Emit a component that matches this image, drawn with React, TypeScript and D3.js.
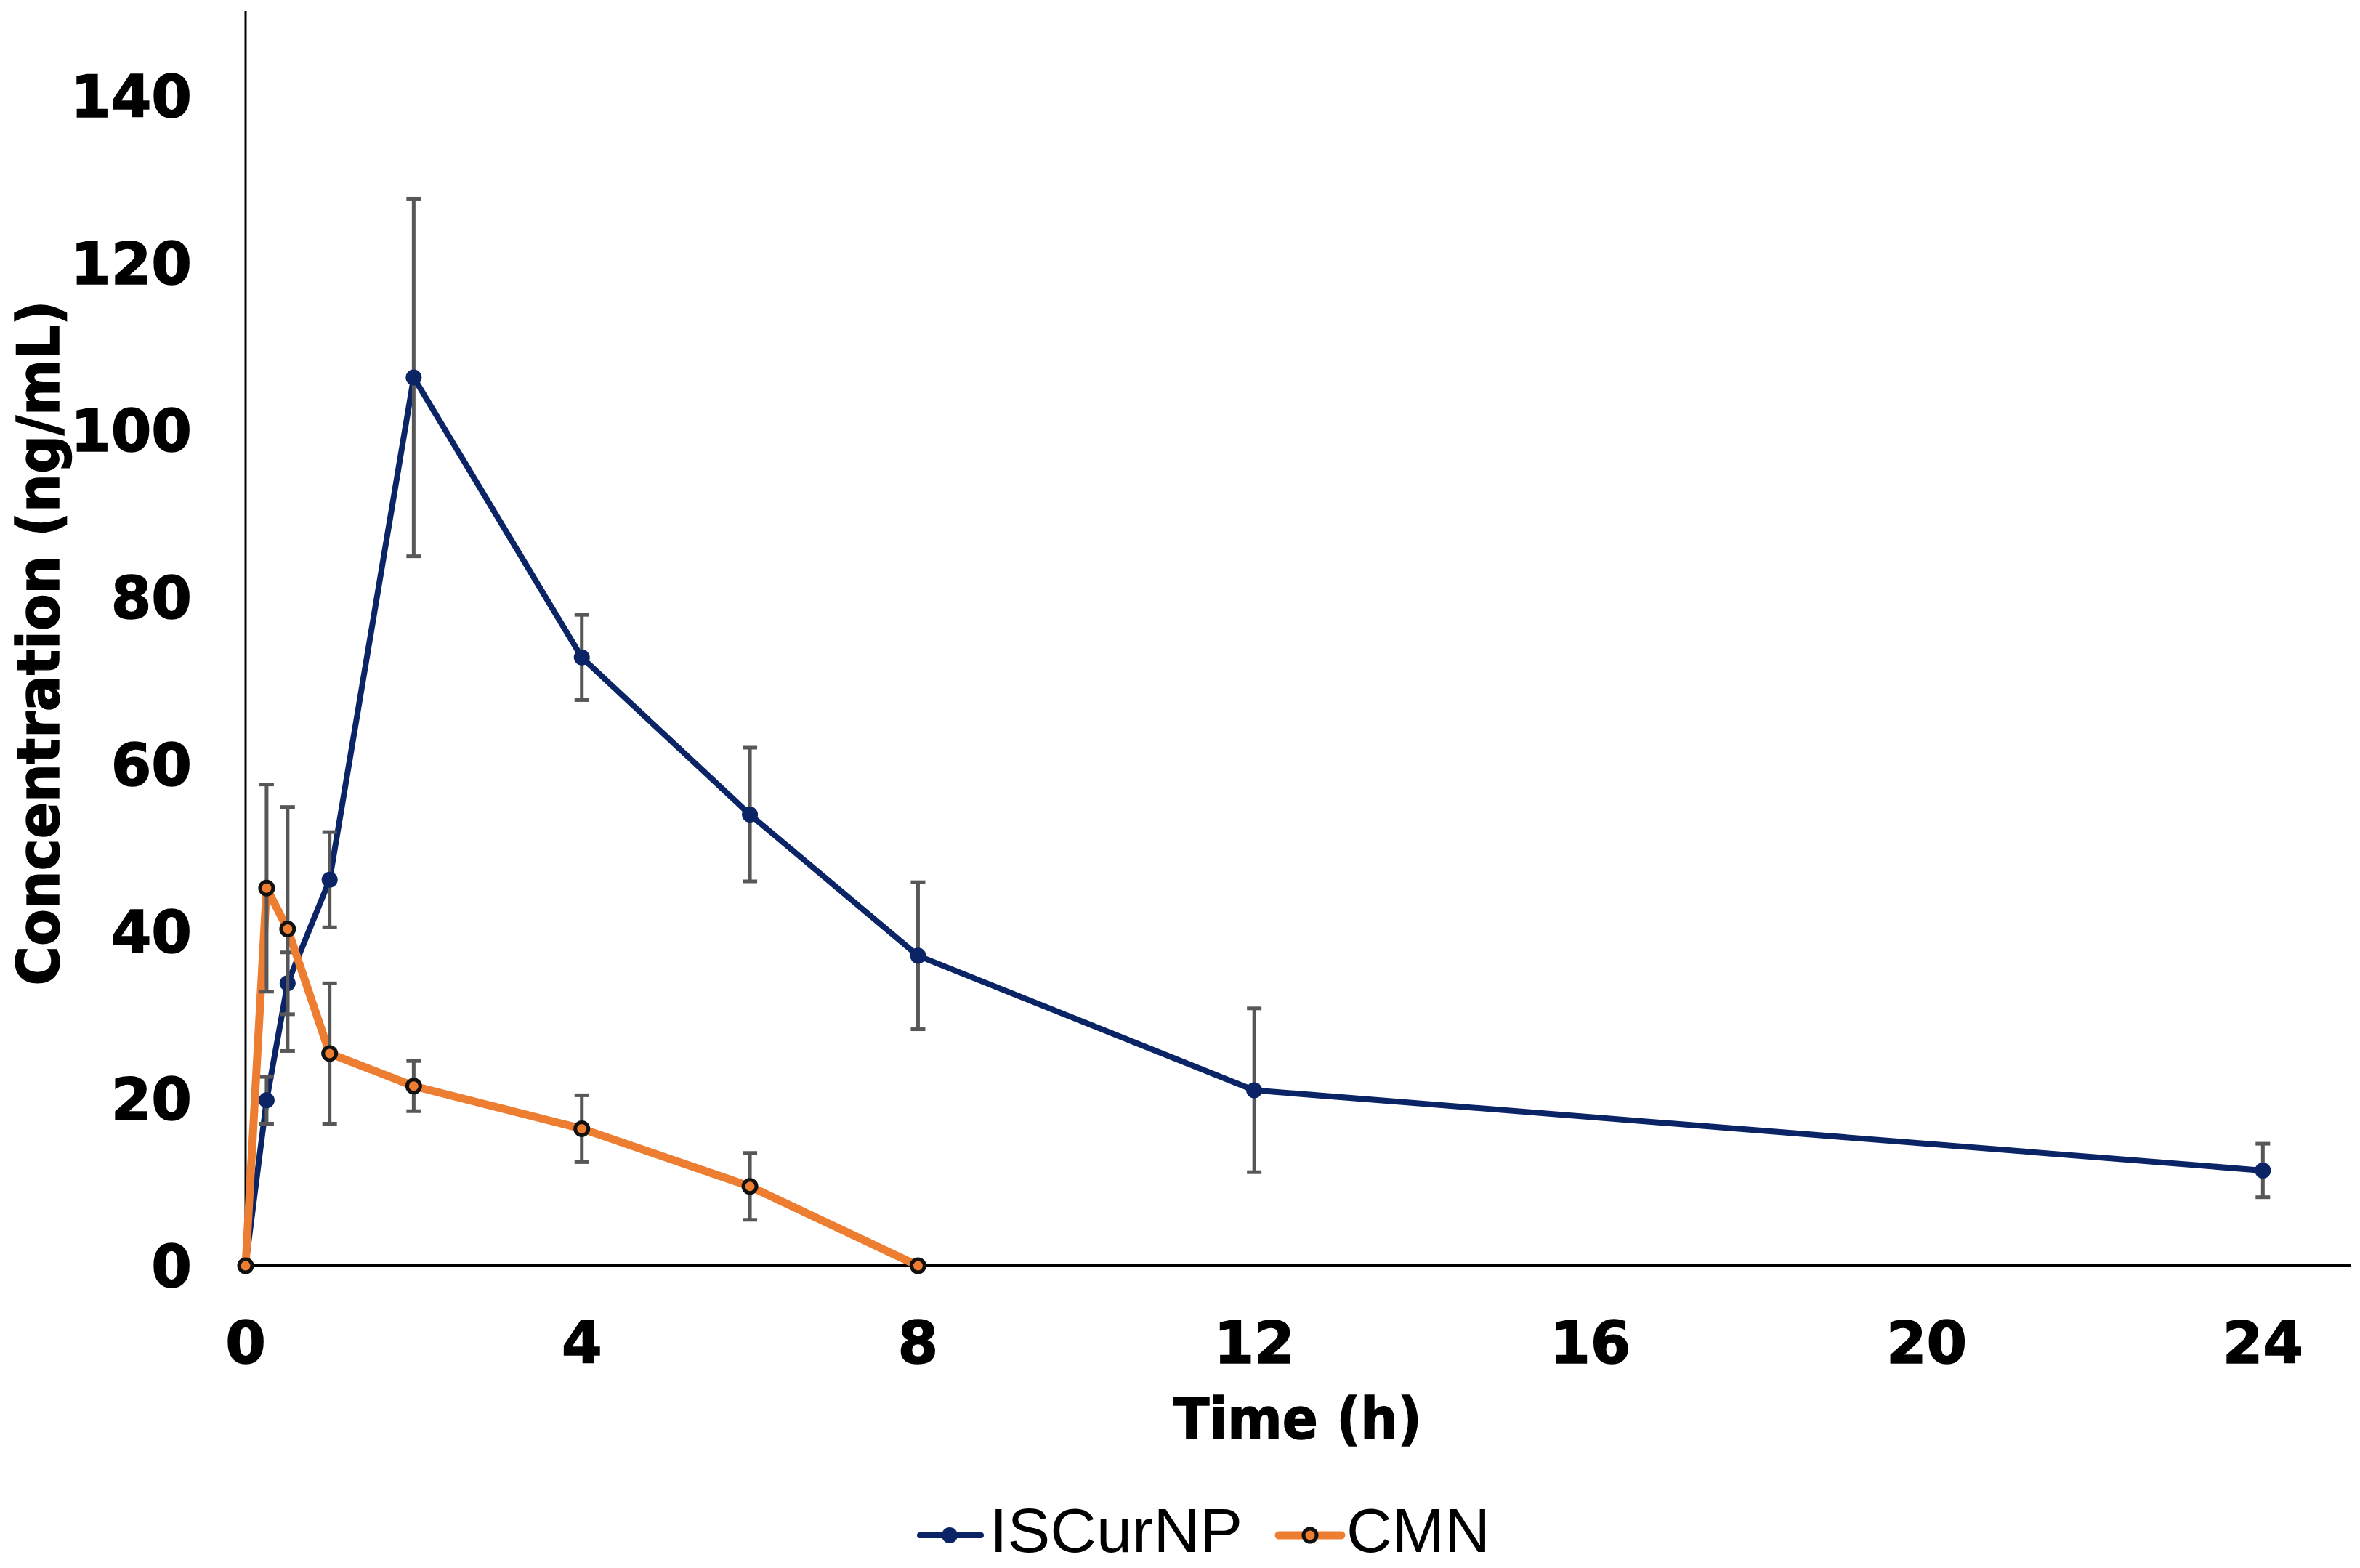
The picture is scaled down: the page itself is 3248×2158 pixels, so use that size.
import React from "react";
import * as d3 from "d3";

const W = 3248;
const H = 2158;

const isTimes = [0, 0.25, 0.5, 1, 2, 4, 6, 8, 12, 24];
const isValues = [0, 19.8, 33.8, 46.2, 106.3, 72.8, 54.0, 37.1, 21.0, 11.4];
const isSD = [0, 2.8, 3.7, 5.7, 21.4, 5.1, 8.0, 8.8, 9.8, 3.2];

const cmnTimes = [0, 0.25, 0.5, 1, 2, 4, 6, 8];
const cmnValues = [0, 45.2, 40.3, 25.4, 21.5, 16.4, 9.5, 0];
const cmnSD = [0, 12.4, 14.6, 8.4, 3.0, 4.0, 4.0, 0];

const yTicks = [0, 20, 40, 60, 80, 100, 120, 140];
const xTicks = [0, 4, 8, 12, 16, 20, 24];

const seriesNames = ["ISCurNP", "CMN"];

const BLUE = "#0a2466";
const ORANGE = "#ed7d31";
const ERR = "#575757";

export default function App() {
  const x = d3.scaleLinear().domain([0, 25]).range([338, 3230]);
  const y = d3.scaleLinear().domain([0, 150]).range([1742, 17]);

  const line = d3
    .line<[number, number]>()
    .x((d) => x(d[0]))
    .y((d) => y(d[1]));

  const isPts: [number, number][] = isTimes.map((t, i) => [t, isValues[i]]);
  const cmnPts: [number, number][] = cmnTimes.map((t, i) => [t, cmnValues[i]]);

  const errBars = (times: number[], vals: number[], sds: number[], key: string) =>
    times.map((t, i) =>
      sds[i] > 0 ? (
        <g key={key + i} stroke={ERR} strokeWidth={5}>
          <line x1={x(t)} x2={x(t)} y1={y(vals[i] + sds[i])} y2={y(vals[i] - sds[i])} />
          <line x1={x(t) - 10} x2={x(t) + 10} y1={y(vals[i] + sds[i])} y2={y(vals[i] + sds[i])} />
          <line x1={x(t) - 10} x2={x(t) + 10} y1={y(vals[i] - sds[i])} y2={y(vals[i] - sds[i])} />
        </g>
      ) : null
    );

  const boldFont = "'DejaVu Sans', Verdana, sans-serif";
  const legendFont = "'Liberation Sans', Arial, sans-serif";

  return (
    <svg
      width={W}
      height={H}
      style={{ position: "absolute", left: 0, top: 0, background: "#fff" }}
    >
      <rect x={0} y={0} width={W} height={H} fill="#fff" />
      {/* axes */}
      <line x1={338} x2={338} y1={15} y2={y(0)} stroke="#000" strokeWidth={3} />
      <line x1={338} x2={3235} y1={y(0)} y2={y(0)} stroke="#000" strokeWidth={4} />

      {/* y tick labels */}
      {yTicks.map((t) => (
        <text
          key={"yt" + t}
          x={264}
          y={y(t) + 29}
          textAnchor="end"
          fontFamily={boldFont}
          fontWeight="bold"
          fontSize={80}
          stroke="#000"
          strokeWidth={1.5}
          fill="#000"
        >
          {t}
        </text>
      ))}
      {/* x tick labels */}
      {xTicks.map((t) => (
        <text
          key={"xt" + t}
          x={x(t)}
          y={1876}
          textAnchor="middle"
          fontFamily={boldFont}
          fontWeight="bold"
          fontSize={80}
          stroke="#000"
          strokeWidth={1.5}
          fill="#000"
        >
          {t}
        </text>
      ))}

      {/* axis titles */}
      <text
        x={1786}
        y={1980}
        textAnchor="middle"
        fontFamily={boldFont}
        fontWeight="bold"
        fontSize={78}
        textLength={342}
        lengthAdjust="spacingAndGlyphs"
        stroke="#000"
        strokeWidth={1.5}
        fill="#000"
      >
        Time (h)
      </text>
      <text
        transform="translate(81,885) rotate(-90)"
        textAnchor="middle"
        fontFamily={boldFont}
        fontWeight="bold"
        fontSize={80}
        textLength={943}
        lengthAdjust="spacingAndGlyphs"
        stroke="#000"
        strokeWidth={1.5}
        fill="#000"
      >
        Concentration (ng/mL)
      </text>

      {/* ISCurNP series */}
      <path d={line(isPts) || ""} fill="none" stroke={BLUE} strokeWidth={8} strokeLinejoin="round" />
      {errBars(isTimes, isValues, isSD, "ise")}
      {isPts.map((p, i) => (
        <circle key={"ism" + i} cx={x(p[0])} cy={y(p[1])} r={11} fill={BLUE} />
      ))}

      {/* CMN series */}
      <path d={line(cmnPts) || ""} fill="none" stroke={ORANGE} strokeWidth={11} strokeLinejoin="round" />
      {errBars(cmnTimes, cmnValues, cmnSD, "cme")}
      {cmnPts.map((p, i) => (
        <circle
          key={"cmm" + i}
          cx={x(p[0])}
          cy={y(p[1])}
          r={9}
          fill={ORANGE}
          stroke="#111"
          strokeWidth={5}
        />
      ))}

      {/* legend */}
      <g>
        <line x1={1266} x2={1350} y1={2113} y2={2113} stroke={BLUE} strokeWidth={8} strokeLinecap="round" />
        <circle cx={1307} cy={2113} r={11} fill={BLUE} />
        <text
          x={1362}
          y={2136}
          fontFamily={legendFont}
          fontSize={86}
          textLength={348}
          lengthAdjust="spacingAndGlyphs"
          fill="#000"
        >
          {seriesNames[0]}
        </text>
        <line x1={1760} x2={1846} y1={2113} y2={2113} stroke={ORANGE} strokeWidth={11} strokeLinecap="round" />
        <circle cx={1803} cy={2113} r={9} fill={ORANGE} stroke="#111" strokeWidth={5} />
        <text
          x={1853}
          y={2136}
          fontFamily={legendFont}
          fontSize={86}
          textLength={198}
          lengthAdjust="spacingAndGlyphs"
          fill="#000"
        >
          {seriesNames[1]}
        </text>
      </g>
    </svg>
  );
}
